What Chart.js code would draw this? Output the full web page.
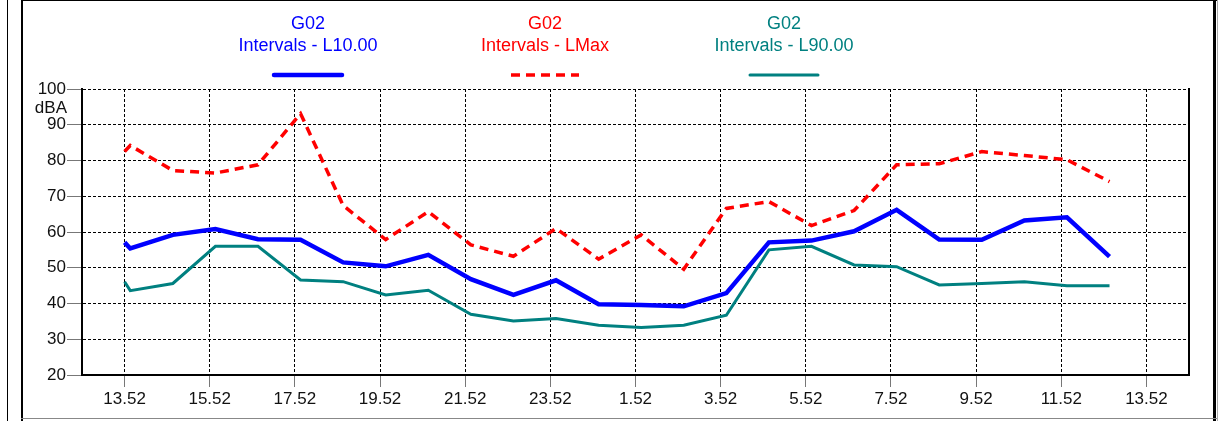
<!DOCTYPE html>
<html>
<head>
<meta charset="utf-8">
<script src="https://cdn.jsdelivr.net/npm/chart.js@4.4.0/dist/chart.umd.min.js"></script>
<style>
body{margin:0;background:#fff;}
#wrap{position:relative;width:1225px;height:421px;overflow:hidden;background:#fff;}
#chart{position:absolute;left:0;top:0;}
.ln{position:absolute;background:#000;}
</style>
</head>
<body>
<div id="wrap">
<canvas id="chart" width="1225" height="421"></canvas>
<!-- frame lines round the chart -->
<div class="ln" style="left:7px;top:0;width:1px;height:421px"></div>
<div class="ln" style="left:21px;top:0;width:2px;height:421px"></div>
<div class="ln" style="left:21px;top:0;width:1196px;height:1px"></div>
<div class="ln" style="left:1213px;top:0;width:3px;height:421px"></div>
<div class="ln" style="left:1217px;top:0;width:1px;height:421px;background:#aaa"></div>
<div class="ln" style="left:21px;top:418px;width:1196px;height:1px;background:#888"></div>
</div>
<script>
// reading times (first one is the survey start)
let times = ['13:52','14:00','15:00','16:00','17:00','18:00','19:00','20:00','21:00','22:00','23:00','0:00','1:00',
             '2:00','3:00','4:00','5:00','6:00','7:00','8:00','9:00','10:00','11:00','12:00','13:00'];

// dBA levels
let l10  = [57.1,55.4,59.2,60.8,58.0,57.8,51.5,50.4,53.6,46.8,42.4,46.5,39.8,39.6,39.2,42.9,57.1,57.6,60.2,66.2,57.9,57.8,63.2,64.1,53.1];
let lmax = [82.5,84.2,77.2,76.5,78.8,93.1,67.4,57.9,65.7,56.4,53.2,61.0,52.4,59.2,49.6,66.6,68.5,61.8,66.0,78.8,79.1,82.5,81.4,80.2,74.1];
let l90  = [46.1,43.6,45.6,56.0,56.0,46.6,46.1,42.4,43.7,37.0,35.1,35.8,33.9,33.3,33.9,36.7,55.0,56.0,50.8,50.3,45.2,45.6,46.1,45.0,45.0];

let siteName = 'G02';
let seriesNames = ['Intervals - L10.00', 'Intervals - LMax', 'Intervals - L90.00'];

// x axis: hours after 13.52
let tickHours = [0,2,4,6,8,10,12,14,16,18,20,22,24];
let tickLabels = ['13.52','15.52','17.52','19.52','21.52','23.52','1.52','3.52','5.52','7.52','9.52','11.52','13.52'];

function hoursFromStart(t){
    let p = t.split(':');
    let h = Number(p[0]) + Number(p[1]) / 60 - (13 + 52 / 60);
    if(h < 0){
        h += 24;
    }
    return h;
}

function toPoints(arr){
    return times.map((t, i) => ({x : hoursFromStart(t), y : arr[i]}));
}

let font = {family : '"Liberation Sans", Arial, sans-serif', size : 17};

// legend above the plot + unit label
let legendCenters = [308, 545, 784];
let extraText = {
    id : 'extraText',
    afterDraw(chart){
        let ctx = chart.ctx;
        ctx.save();
        ctx.font = '17px "Liberation Sans", Arial, sans-serif';
        ctx.fillStyle = '#111';
        ctx.textAlign = 'right';
        ctx.textBaseline = 'alphabetic';
        ctx.fillText('dBA', 67, 113);

        ctx.font = '18px "Liberation Sans", Arial, sans-serif';
        ctx.textAlign = 'center';
        chart.data.datasets.forEach((ds, i) => {
            let cx = legendCenters[i];
            ctx.fillStyle = ds.borderColor;
            ctx.fillText(siteName, cx, 29);
            ctx.fillText(ds.label, cx, 51);
            ctx.strokeStyle = ds.borderColor;
            ctx.lineWidth = ds.borderWidth;
            ctx.setLineDash(ds.borderDash || []);
            ctx.lineCap = ds.borderDash ? 'butt' : 'round';
            ctx.beginPath();
            ctx.moveTo(cx - 34, 75);
            ctx.lineTo(cx + 34, 75);
            ctx.stroke();
        });
        ctx.restore();
    }
};

let config = {
    type : 'line',
    data : {
        datasets : [{
            label : seriesNames[0],
            data : toPoints(l10),
            borderColor : '#0000ff',
            borderWidth : 4.5
        },{
            label : seriesNames[1],
            data : toPoints(lmax),
            borderColor : '#ff0000',
            borderWidth : 3.5,
            borderDash : [9, 6]
        },{
            label : seriesNames[2],
            data : toPoints(l90),
            borderColor : '#008080',
            borderWidth : 3
        }]
    },
    options : {
        responsive : false,
        animation : false,
        devicePixelRatio : 1,
        layout : {padding : {top : 89, left : 0, right : 0, bottom : 0}},
        elements : {point : {radius : 0}, line : {tension : 0}},
        plugins : {legend : {display : false}, tooltip : {enabled : false}},
        scales : {
            x : {
                type : 'linear',
                min : -1,
                max : 25,
                afterBuildTicks : s => { s.ticks = tickHours.map(v => ({value : v})); },
                afterFit : s => { s.height = 46; },
                ticks : {
                    autoSkip : false,
                    maxRotation : 0,
                    padding : 2,
                    font : font,
                    color : '#111',
                    callback : (v, i) => tickLabels[i]
                },
                grid : {color : '#000', lineWidth : 1, tickLength : 12, tickColor : '#777'},
                border : {display : true, color : '#000', width : 2, dash : [3, 2]}
            },
            y : {
                min : 20,
                max : 100,
                afterFit : s => { s.width = 82; },
                ticks : {stepSize : 10, padding : 1, font : font, color : '#111'},
                grid : {color : '#000', lineWidth : 1, tickLength : 15, tickColor : '#777'},
                border : {display : true, color : '#000', width : 2, dash : [3, 2]}
            },
            y2 : {
                position : 'right',
                min : 20,
                max : 100,
                afterFit : s => { s.width = 36; },
                ticks : {display : false},
                grid : {drawOnChartArea : false, drawTicks : false},
                border : {display : true, color : '#000', width : 2}
            }
        }
    },
    plugins : [extraText]
};

new Chart(document.getElementById('chart'), config);
</script>
</body>
</html>
